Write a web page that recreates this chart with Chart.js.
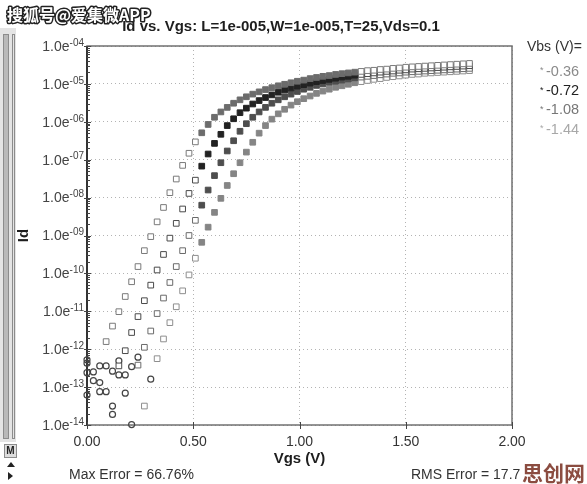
<!DOCTYPE html>
<html>
<head>
<meta charset="utf-8">
<script src="https://cdn.jsdelivr.net/npm/chart.js@4/dist/chart.umd.min.js"></script>
<style>
  html, body { margin: 0; padding: 0; background: #fff; }
  #wrap { position: relative; width: 587px; height: 484px; }
</style>
</head>
<body>
<div id="wrap"><canvas id="ivChart"></canvas></div>
<script>
// Vgs sweep (V)
const vgs = [0.00, 0.03, 0.06, 0.09, 0.12, 0.15, 0.18, 0.21, 0.24, 0.27,
  0.30, 0.33, 0.36, 0.39, 0.42, 0.45, 0.48, 0.51, 0.54, 0.57,
  0.60, 0.63, 0.66, 0.69, 0.72, 0.75, 0.78, 0.81, 0.84, 0.87,
  0.90, 0.93, 0.96, 0.99, 1.02, 1.05, 1.08, 1.11, 1.14, 1.17,
  1.20, 1.23, 1.26, 1.29, 1.32, 1.35, 1.38, 1.41, 1.44, 1.47,
  1.50, 1.53, 1.56, 1.59, 1.62, 1.65, 1.68, 1.71, 1.74, 1.77, 1.80];

// log10(Id) per Vbs, null = not shown
const logIdVbs036 = [null, null, null, -11.80, -11.39, -11.01, -10.61, -10.22, -9.82, -9.40,
  -9.03, -8.64, -8.26, -7.87, -7.51, -7.15, -6.83, -6.53, -6.29, -6.07,
  -5.88, -5.74, -5.62, -5.51, -5.42, -5.34, -5.27, -5.21, -5.15, -5.10,
  -5.05, -5.01, -4.97, -4.93, -4.90, -4.86, -4.83, -4.80, -4.78, -4.75,
  -4.73, -4.71, -4.69, -4.67, -4.65, -4.64, -4.62, -4.61, -4.59, -4.58,
  -4.56, -4.55, -4.54, -4.53, -4.52, -4.51, -4.50, -4.49, -4.48, -4.47, -4.46];
const logIdVbs072 = [null, null, null, null, null, -12.44, -12.04, -11.56, -11.14, -10.72,
  -10.31, -9.91, -9.50, -9.07, -8.68, -8.30, -7.89, -7.54, -7.17, -6.85,
  -6.57, -6.33, -6.10, -5.92, -5.76, -5.64, -5.53, -5.44, -5.36, -5.29,
  -5.22, -5.16, -5.11, -5.06, -5.02, -4.98, -4.94, -4.91, -4.88, -4.85,
  -4.82, -4.80, -4.77, -4.75, -4.73, -4.71, -4.69, -4.67, -4.66, -4.64,
  -4.63, -4.61, -4.60, -4.59, -4.58, -4.57, -4.56, -4.55, -4.54, -4.53, -4.52];
const logIdVbs108 = [null, null, null, null, null, null, null, null, -12.42, -11.95,
  -11.52, -11.06, -10.65, -10.24, -9.82, -9.40, -9.00, -8.60, -8.20, -7.80,
  -7.42, -7.08, -6.77, -6.50, -6.25, -6.05, -5.88, -5.74, -5.62, -5.51,
  -5.42, -5.34, -5.27, -5.20, -5.14, -5.09, -5.04, -5.00, -4.96, -4.93,
  -4.90, -4.87, -4.84, -4.82, -4.80, -4.78, -4.76, -4.74, -4.72, -4.71,
  -4.69, -4.68, -4.67, -4.66, -4.65, -4.64, -4.63, -4.62, -4.61, -4.60, -4.59];
const logIdVbs144 = [null, null, null, null, null, null, null, null, null, -13.50,
  null, -12.25, -11.73, -11.30, -10.88, -10.46, -10.04, -9.60, -9.18, -8.78,
  -8.39, -8.02, -7.68, -7.37, -7.08, -6.80, -6.54, -6.30, -6.10, -5.93,
  -5.79, -5.67, -5.56, -5.47, -5.39, -5.32, -5.25, -5.19, -5.14, -5.09,
  -5.05, -5.01, -4.97, -4.94, -4.91, -4.88, -4.86, -4.83, -4.81, -4.79,
  -4.77, -4.75, -4.74, -4.72, -4.71, -4.70, -4.69, -4.68, -4.67, -4.66, -4.65];

// noise floor points (circles)
const noiseVgs = [0.00, 0.00, 0.00, 0.00, 0.03, 0.03, 0.06, 0.09, 0.06, 0.06, 0.09,
  0.12, 0.15, 0.15, 0.18, 0.18, 0.21, 0.24, 0.30, 0.12, 0.12, 0.21];
const noiseLogId = [-12.28, -12.37, -12.62, -13.21, -12.60, -12.83, -12.44, -12.44, -12.88, -13.12, -13.12,
  -12.58, -12.31, -12.68, -12.68, -13.16, -12.46, -12.21, -12.79, -13.50, -13.72, -13.99];

const vbsLabels = ['-0.36', '-0.72', '-1.08', '-1.44'];
const yTickExp = [-4, -5, -6, -7, -8, -9, -10, -11, -12, -13, -14];
const xTickVals = [0, 0.5, 1, 1.5, 2];

const fillCols = ['#6c6c6c', '#222222', '#4e4e4e', '#858585'];
const hollowCols = ['#7a7a7a', '#4a4a4a', '#6a6a6a', '#8e8e8e'];
const legendCols = ['#8a8a8a', '#222', '#777', '#a8a8a8'];
const FONT = '"Liberation Sans", Arial, sans-serif';

function toPoints(arr) {
  return vgs.map((v, i) => arr[i] == null ? null : { x: v, y: Math.pow(10, arr[i]) })
    .filter(p => p !== null);
}
function isFilled(x) { return x >= 0.535 && x <= 1.265; }

const seriesLogs = [logIdVbs036, logIdVbs072, logIdVbs108, logIdVbs144];
const datasets = seriesLogs.map((arr, s) => ({
  label: 'Vbs=' + vbsLabels[s],
  data: toPoints(arr),
  showLine: false,
  pointStyle: 'rect',
  pointRadius: 4,
  pointBorderWidth: 1,
  pointBackgroundColor: c => (c.raw && isFilled(c.raw.x)) ? fillCols[s] : '#fff',
  pointBorderColor: c => (c.raw && isFilled(c.raw.x)) ? fillCols[s] : hollowCols[s],
  clip: false
}));
datasets.push({
  label: 'noise',
  data: noiseVgs.map((v, i) => ({ x: v, y: Math.pow(10, noiseLogId[i]) })),
  showLine: false,
  pointStyle: 'circle',
  pointRadius: 3,
  pointBorderWidth: 1.2,
  pointBackgroundColor: 'rgba(255,255,255,0)',
  pointBorderColor: '#444',
  clip: false
});

const decor = {
  id: 'decor',
  beforeDraw(chart) {
    const ctx = chart.ctx;
    ctx.save();
    ctx.fillStyle = '#fff';
    ctx.fillRect(0, 0, chart.width, chart.height);
    // left tool strip
    ctx.fillStyle = '#e4e4e4';
    ctx.fillRect(0, 28, 16, 414);
    ctx.fillStyle = '#b9b9b9';
    ctx.fillRect(3, 34, 5, 404);
    ctx.strokeStyle = '#8c8c8c';
    ctx.lineWidth = 1;
    ctx.strokeRect(3.5, 34.5, 5, 404);
    ctx.strokeRect(12.5, 34.5, 2, 404);
    ctx.fillStyle = '#ddd';
    ctx.fillRect(4, 444, 13, 14);
    ctx.strokeRect(4.5, 444.5, 12, 13);
    ctx.fillStyle = '#222';
    ctx.font = 'bold 10px ' + FONT;
    ctx.textAlign = 'center';
    ctx.textBaseline = 'middle';
    ctx.fillText('M', 10.5, 451.5);
    ctx.beginPath();
    ctx.moveTo(7, 467); ctx.lineTo(11, 462); ctx.lineTo(15, 467); ctx.closePath();
    ctx.fill();
    ctx.beginPath();
    ctx.moveTo(8, 472); ctx.lineTo(13, 476); ctx.lineTo(8, 480); ctx.closePath();
    ctx.fill();
    ctx.restore();
  },
  beforeDatasetsDraw(chart) {
    const ctx = chart.ctx;
    const a = chart.chartArea;
    const ys = chart.scales.y;
    ctx.save();
    // frame
    ctx.strokeStyle = '#707070';
    ctx.lineWidth = 1.5;
    ctx.strokeRect(a.left, a.top, a.right - a.left, a.bottom - a.top);
    ctx.strokeStyle = '#333';
    ctx.lineWidth = 2;
    ctx.beginPath();
    ctx.moveTo(a.left, a.top); ctx.lineTo(a.left, a.bottom);
    ctx.stroke();
    // y ticks, major and minor
    ctx.lineWidth = 1;
    ctx.strokeStyle = '#444';
    ctx.beginPath();
    yTickExp.forEach(e => {
      const y = Math.round(ys.getPixelForValue(Math.pow(10, e))) + 0.5;
      ctx.moveTo(a.left - 3, y); ctx.lineTo(a.left + 4, y);
      if (e > -14) {
        for (let m = 2; m <= 9; m++) {
          const ym = Math.round(ys.getPixelForValue(m * Math.pow(10, e - 1))) + 0.5;
          ctx.moveTo(a.left, ym); ctx.lineTo(a.left + 3, ym);
        }
      }
    });
    // x ticks
    const xs = chart.scales.x;
    xTickVals.forEach(v => {
      const x = Math.round(xs.getPixelForValue(v)) + 0.5;
      ctx.moveTo(x, a.bottom - 3); ctx.lineTo(x, a.bottom + 4);
    });
    ctx.stroke();
    ctx.restore();
  },
  afterDraw(chart) {
    const ctx = chart.ctx;
    const ys = chart.scales.y;
    ctx.save();
    // title
    ctx.fillStyle = '#1e1e1e';
    ctx.font = 'bold 15px ' + FONT;
    ctx.textAlign = 'center';
    ctx.textBaseline = 'middle';
    ctx.fillText('Id vs. Vgs: L=1e-005,W=1e-005,T=25,Vds=0.1', 281, 27);
    // y tick labels with raised exponent
    yTickExp.forEach(e => {
      const y = ys.getPixelForValue(Math.pow(10, e));
      const sup = '-' + String(-e).padStart(2, '0');
      ctx.font = '10px ' + FONT;
      const supW = ctx.measureText(sup).width;
      ctx.fillStyle = '#444';
      ctx.textAlign = 'left';
      ctx.fillText(sup, 84 - supW, y - 3);
      ctx.font = '14px ' + FONT;
      ctx.textAlign = 'right';
      ctx.fillText('1.0e', 84 - supW, y + 1);
    });
    // legend
    ctx.textAlign = 'left';
    ctx.font = '14px ' + FONT;
    ctx.fillStyle = '#333';
    ctx.fillText('Vbs (V)=', 527, 47);
    vbsLabels.forEach((lab, i) => {
      const y = 72 + i * 19.2;
      ctx.fillStyle = legendCols[i];
      ctx.font = '9px ' + FONT;
      ctx.fillText('*', 540, y - 1);
      ctx.font = '14.5px ' + FONT;
      ctx.fillText(lab, 546, y);
    });
    // error summary
    ctx.fillStyle = '#333';
    ctx.font = '14px ' + FONT;
    ctx.fillText('Max Error = 66.76%', 69, 475);
    ctx.fillText('RMS Error = 17.7', 411, 475);
    // watermarks
    ctx.font = 'bold 16px "Noto Sans CJK SC", sans-serif';
    ctx.lineWidth = 3;
    ctx.strokeStyle = '#222';
    ctx.lineJoin = 'round';
    ctx.strokeText('搜狐号@爱集微APP', 7, 15);
    ctx.fillStyle = '#fff';
    ctx.fillText('搜狐号@爱集微APP', 7, 15);
    ctx.font = 'bold 21px "Noto Sans CJK SC", sans-serif';
    ctx.fillStyle = '#8b4c40';
    ctx.fillText('思创网', 522, 473);
    ctx.restore();
  }
};

const ctx = document.getElementById('ivChart').getContext('2d');
new Chart(ctx, {
  type: 'scatter',
  data: { datasets: datasets },
  options: {
    responsive: true,
    maintainAspectRatio: false,
    animation: false,
    layout: { padding: { top: 46, right: 75, bottom: 14, left: 0 } },
    plugins: {
      legend: { display: false },
      tooltip: { enabled: false },
      title: { display: false }
    },
    scales: {
      x: {
        type: 'linear',
        min: 0,
        max: 2,
        afterBuildTicks: s => { s.ticks = xTickVals.map(v => ({ value: v })); },
        afterFit: s => { s.height = 45; },
        ticks: {
          callback: v => Number(v).toFixed(2),
          color: '#333',
          font: { family: FONT, size: 14 },
          padding: 9,
          maxRotation: 0
        },
        grid: { color: '#b3b3b3', drawTicks: false },
        border: { display: false, dash: [1, 3] },
        title: {
          display: true,
          text: 'Vgs (V)',
          color: '#1e1e1e',
          font: { family: FONT, size: 15, weight: 'bold' },
          padding: { top: 0, bottom: 2 }
        }
      },
      y: {
        type: 'logarithmic',
        min: 1e-14,
        max: 1e-4,
        afterBuildTicks: s => { s.ticks = yTickExp.map(e => ({ value: Math.pow(10, e) })); },
        afterFit: s => { s.width = 87; },
        ticks: { display: false },
        grid: { color: '#b3b3b3', drawTicks: false },
        border: { display: false, dash: [1, 3] },
        title: {
          display: true,
          text: 'Id',
          color: '#1e1e1e',
          font: { family: FONT, size: 15, weight: 'bold' },
          padding: { top: 15, bottom: 0 }
        }
      }
    }
  },
  plugins: [decor]
});
</script>
</body>
</html>
